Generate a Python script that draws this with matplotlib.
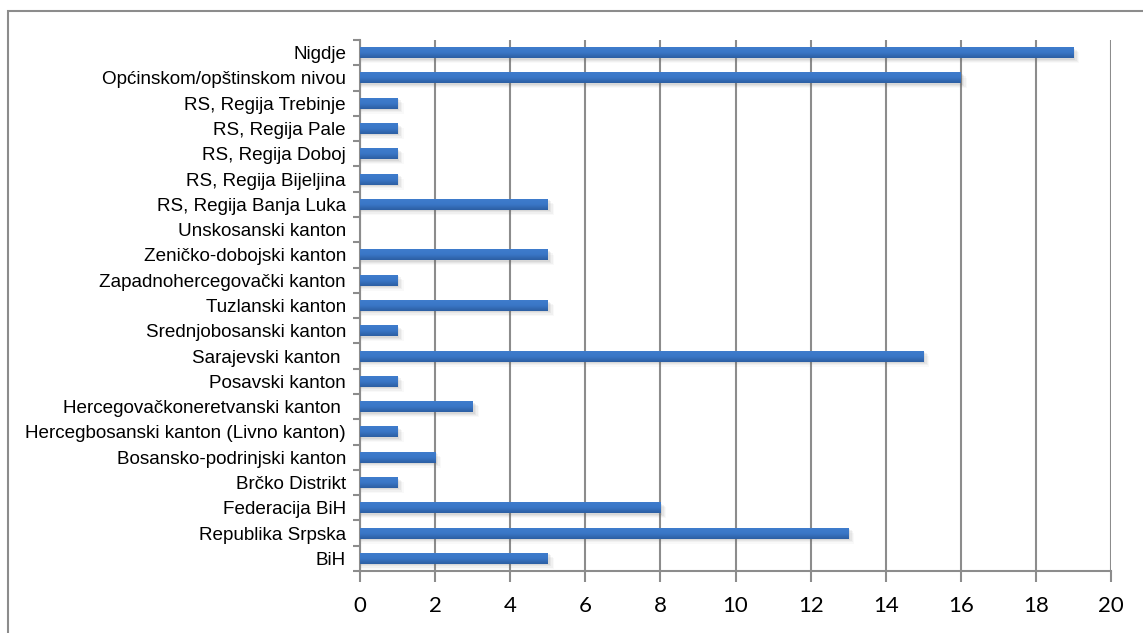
import numpy as np
import matplotlib.pyplot as plt
from matplotlib.patches import Rectangle
from matplotlib.colors import LinearSegmentedColormap

# categories listed from bottom to top
categories = ['BiH', 'Republika Srpska', 'Federacija BiH', 'Brčko Distrikt',
              'Bosansko-podrinjski kanton', 'Hercegbosanski kanton (Livno kanton)',
              'Hercegovačkoneretvanski kanton ', 'Posavski kanton',
              'Sarajevski kanton ', 'Srednjobosanski kanton', 'Tuzlanski kanton',
              'Zapadnohercegovački kanton', 'Zeničko-dobojski kanton',
              'Unskosanski kanton', 'RS, Regija Banja Luka', 'RS, Regija Bijeljina',
              'RS, Regija Doboj', 'RS, Regija Pale', 'RS, Regija Trebinje',
              'Općinskom/opštinskom nivou', 'Nigdje']
values = [5, 13, 8, 1, 2, 1, 3, 1, 15, 1, 5, 1, 5, 0, 5, 1, 1, 1, 1, 16, 19]
xticks = [0, 2, 4, 6, 8, 10, 12, 14, 16, 18, 20]

plt.rcParams['font.family'] = ['Liberation Sans', 'DejaVu Sans']

grey = '#8c8c8c'
bar_h = 0.43

fig = plt.figure(figsize=(11.43, 6.33), dpi=100)
# outer chart border
fig.add_artist(Rectangle((8/1143, -0.05), 1.2, 1 - 11/633 + 0.05,
                         transform=fig.transFigure, fill=False,
                         edgecolor=grey, lw=1.5))
ax = fig.add_axes([360/1143, 1 - 571/633, 751/1143, 531/633])

y = np.arange(len(categories))
vals = np.array(values)

# soft shadow below/right of the bars
for dx, dy, a in [(0.16, -0.20, 0.04), (0.13, -0.15, 0.06),
                  (0.09, -0.10, 0.08), (0.05, -0.06, 0.10)]:
    ax.barh(y + dy, np.where(vals > 0, vals + dx, 0), height=bar_h,
            color='#666666', alpha=a, lw=0, zorder=2)

bars = ax.barh(y, vals, height=bar_h, color='#3b74c2', lw=0, zorder=3)

# vertical gradient inside each bar (lighter top, darker bottom)
grad = np.linspace(0, 1, 64).reshape(-1, 1)
cmap = LinearSegmentedColormap.from_list('b', ['#2c5ea2', '#3a76c6', '#3f7ccc'])
for b in bars:
    if b.get_width() <= 0:
        continue
    im = ax.imshow(grad, cmap=cmap, aspect='auto', zorder=4,
                   extent=[b.get_x(), b.get_x() + b.get_width(),
                           b.get_y(), b.get_y() + b.get_height()],
                   origin='lower', interpolation='bicubic')
    im.set_clip_path(b)

ax.set_xlim(0, 20)
ax.set_ylim(-0.5, len(categories) - 0.5)
ax.set_xticks(xticks)
ax.set_xticklabels([str(t) for t in xticks], fontsize=16, family='Lato')
ax.set_yticks(y)
ax.set_yticklabels(categories, fontsize=13.6)
ax.set_yticks(np.arange(-0.5, len(categories)), minor=True)

ax.tick_params(axis='y', which='major', length=0, pad=10)
ax.tick_params(axis='y', which='minor', length=5, width=1.5, color=grey, direction='out')
ax.tick_params(axis='x', length=8, width=1.5, color=grey, direction='out', pad=10)

ax.grid(axis='x', color=grey, lw=1.5, zorder=1)
ax.set_axisbelow(True)
for s in ['top', 'right']:
    ax.spines[s].set_visible(False)
for s in ['left', 'bottom']:
    ax.spines[s].set_color(grey)
    ax.spines[s].set_linewidth(1.5)

fig.savefig('out.png', dpi=100)
